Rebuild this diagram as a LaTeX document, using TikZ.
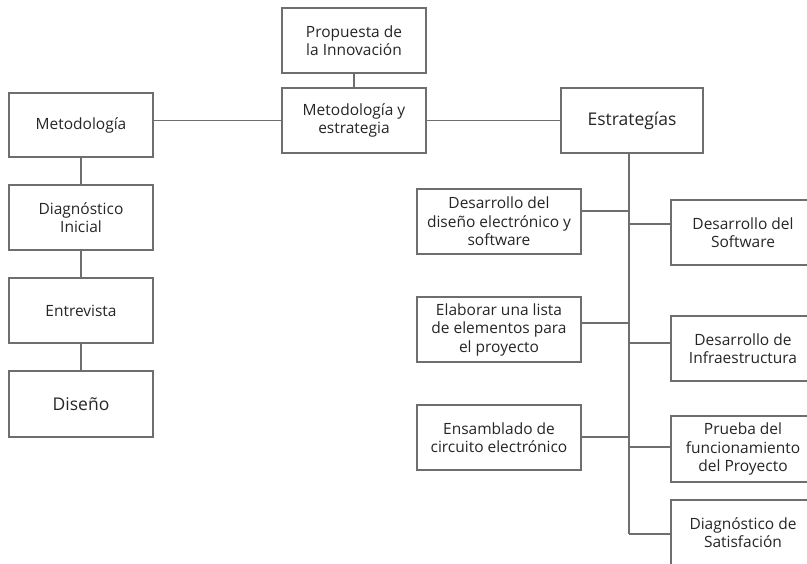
\documentclass[tikz,border=0pt]{standalone}
\usepackage{fontspec}
\setmainfont{Open Sans}
\definecolor{linegray}{HTML}{6E6E6E}
\definecolor{txtgray}{HTML}{262626}
\begin{document}
\begin{tikzpicture}[x=1pt,y=-1pt,
  box/.style={draw=linegray, line width=1.3pt, fill=white, text=txtgray,
    minimum width=144pt, minimum height=65pt, align=center,
    font=\fontsize{15.5}{18.5}\selectfont, inner sep=1pt},
  wbox/.style={box, minimum width=164pt},
  big/.style={font=\fontsize{17.5}{20}\selectfont},
  conn/.style={draw=linegray, line width=1.3pt}]
\useasboundingbox (0,0) rectangle (807,564);
\clip (0,0) rectangle (807,564);
\coordinate (tt) at (629,153);
\coordinate (tb) at (629,534);
\coordinate (t1) at (629,211);
\coordinate (t2) at (629,224);
\coordinate (t3) at (629,323);
\coordinate (t4) at (629,343);
\coordinate (t5) at (629,437);
\coordinate (t6) at (629,447);
\coordinate (t7) at (629,534);

\node[box] (prop) at (354,40.5) {Propuesta de\\la Innovación};
\node[box] (mye) at (354,120.5) {Metodología y\\estrategia};
\node[box, minimum height=64pt] (met) at (81,125) {Metodología};
\node[box] (diag) at (81,217.5) {Diagnóstico\\Inicial};
\node[box] (entr) at (81,310.5) {Entrevista};
\node[box, big, minimum height=66pt] (dis) at (81,404) {Diseño};
\node[box, big, minimum width=142pt] (est) at (632,120.5) {Estrategías};
\node[wbox] (dd) at (499,221.5) {Desarrollo del\\diseño electrónico y\\software};
\node[box] (ds) at (743,232.5) {Desarrollo del\\Software};
\node[wbox] (el) at (499,329.5) {Elaborar una lista\\de elementos para\\el proyecto};
\node[box] (di) at (743,348.5) {Desarrollo de\\Infraestructura};
\node[wbox] (ens) at (499,437.5) {Ensamblado de\\circuito electrónico};
\node[box, minimum height=66pt] (pr) at (743,449) {Prueba del\\funcionamiento\\del Proyecto};
\node[box] (sat) at (743,532.5) {Diagnóstico de\\Satisfación};

\path[conn] (prop) -- (mye);
\path[conn] (mye.west -| met.east) -- (mye.west);
\path[conn] (mye.east) -- (est.west |- mye.east);
\path[conn] (met) -- (diag);
\path[conn] (diag) -- (entr);
\path[conn] (entr) -- (dis);
\path[conn] (tt) -- (tb);
\path[conn] (dd.east |- t1) -- (t1);
\path[conn] (t2) -- (ds.west |- t2);
\path[conn] (el.east |- t3) -- (t3);
\path[conn] (t4) -- (di.west |- t4);
\path[conn] (ens.east |- t5) -- (t5);
\path[conn] (t6) -- (pr.west |- t6);
\path[conn] (t7) -- (sat.west |- t7);
\end{tikzpicture}
\end{document}
